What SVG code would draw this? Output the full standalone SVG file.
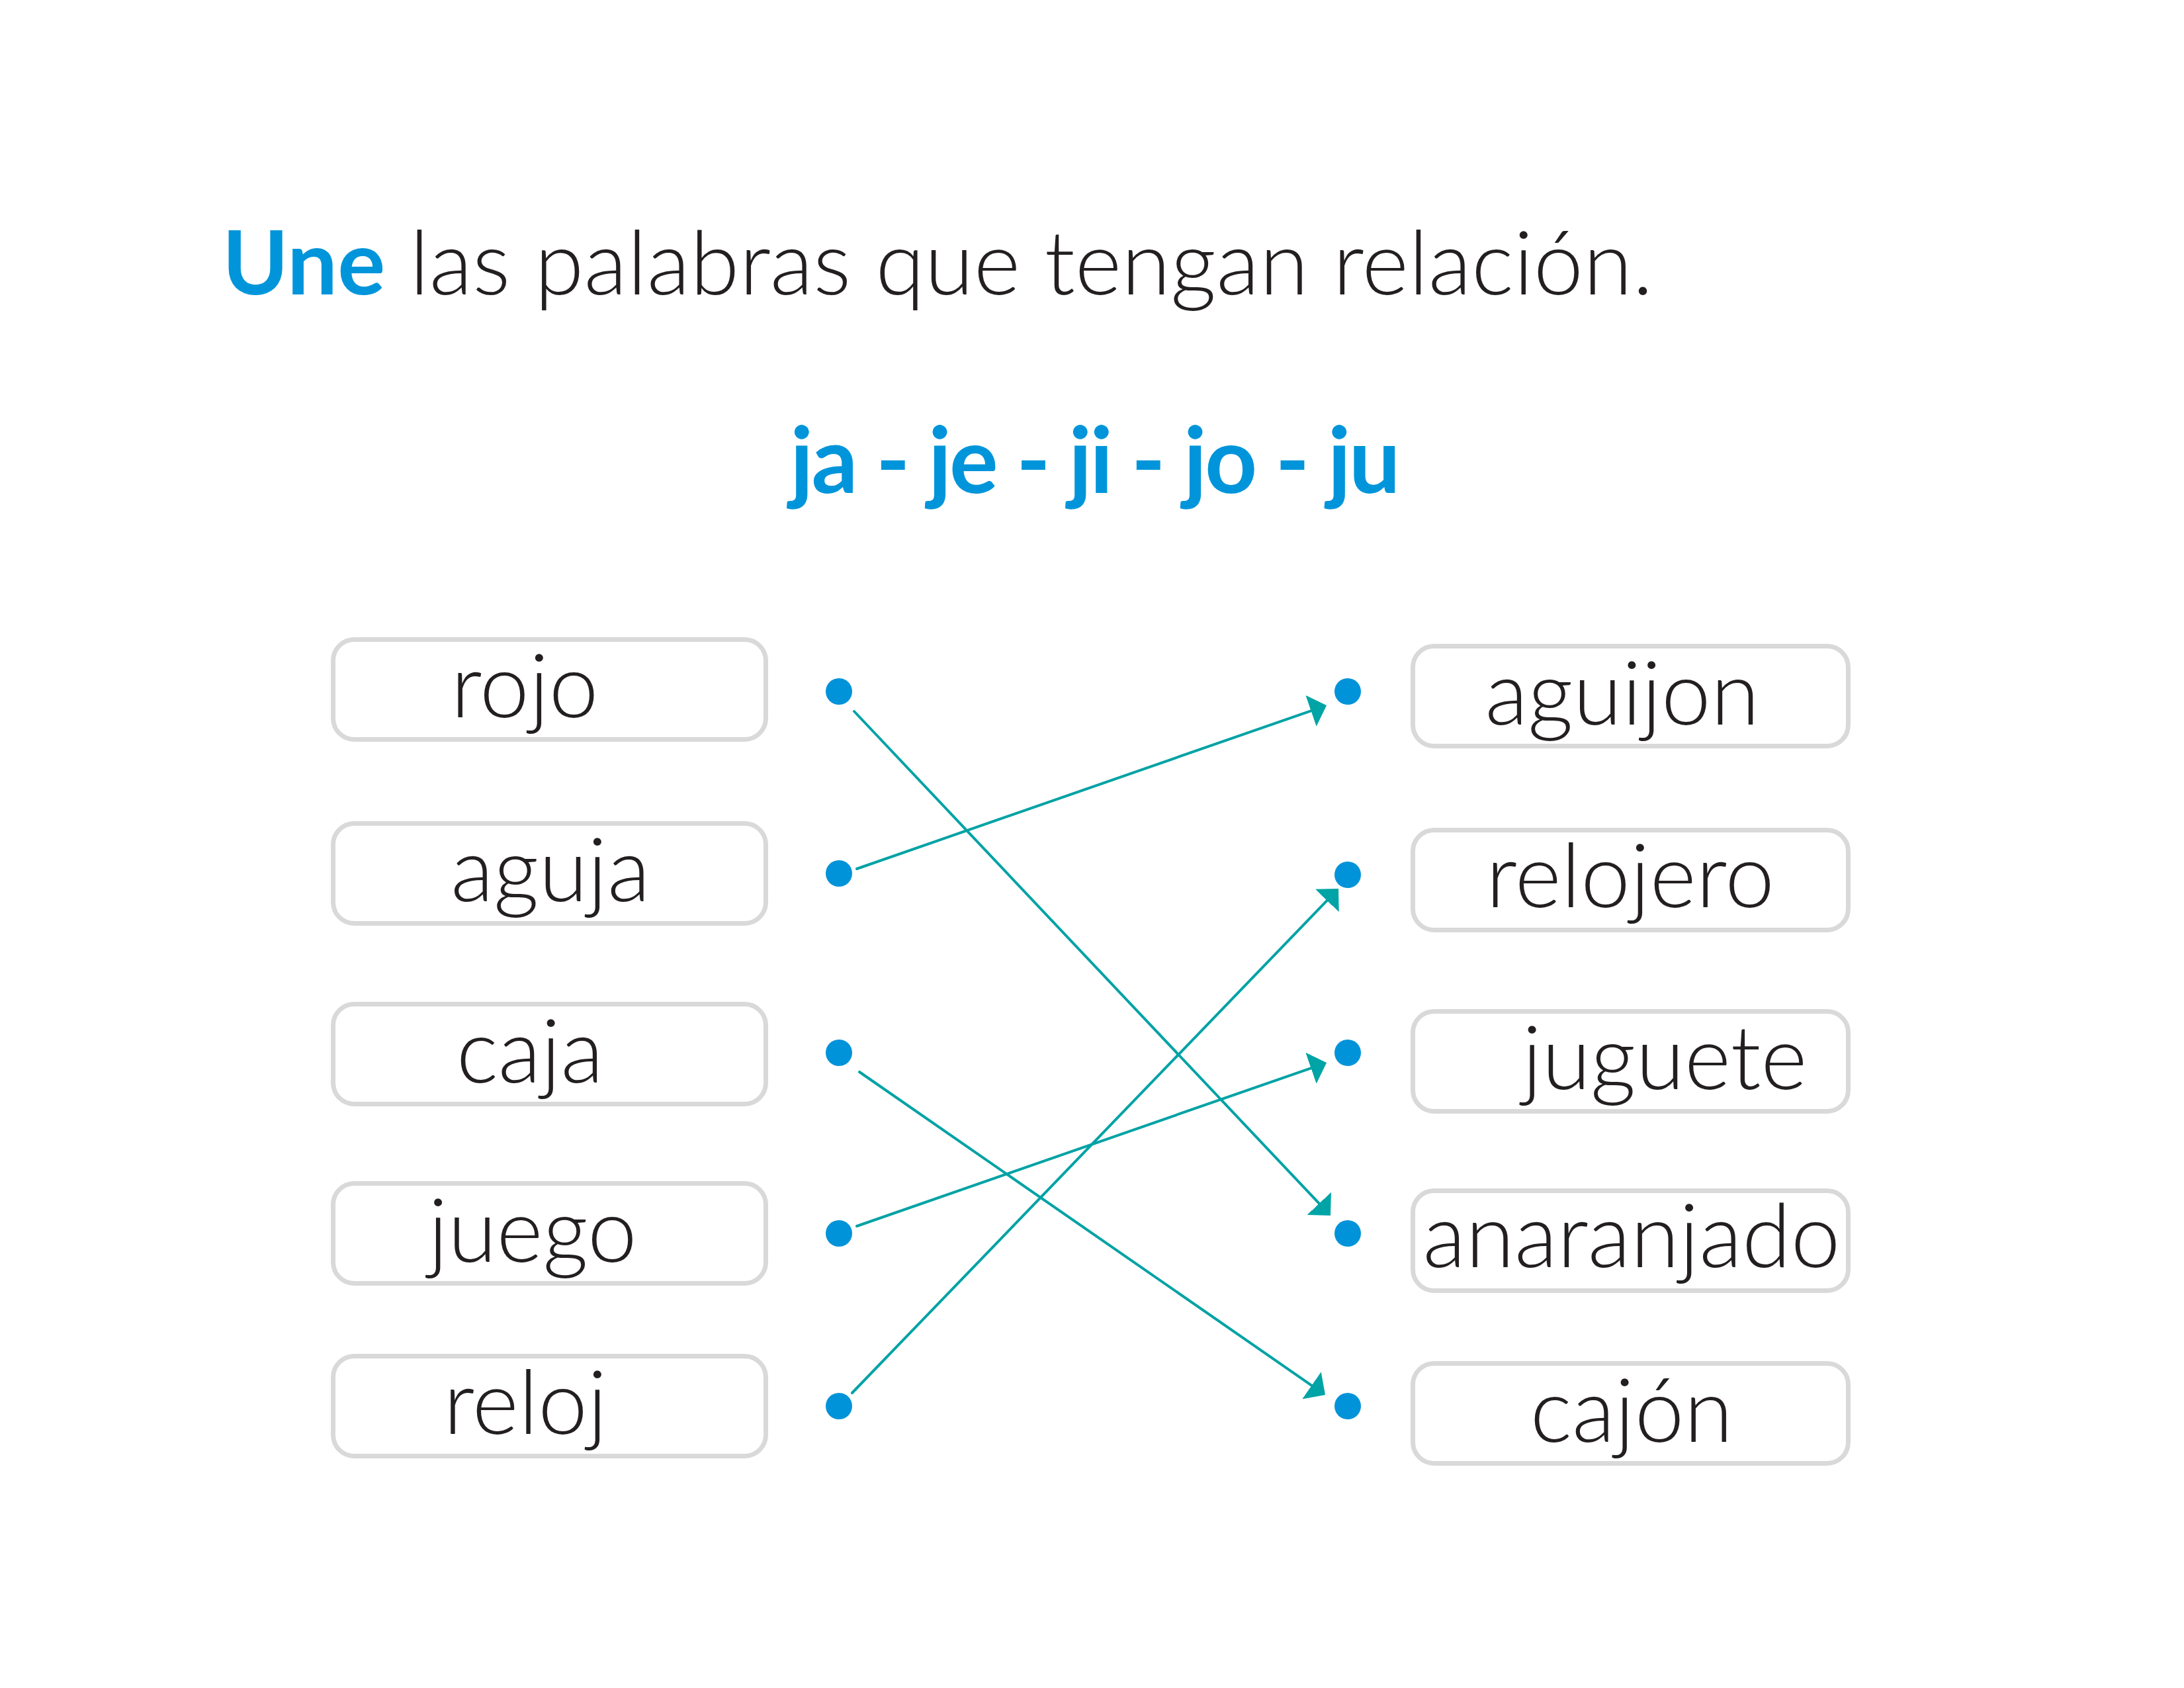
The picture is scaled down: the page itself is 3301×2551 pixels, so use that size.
<svg xmlns="http://www.w3.org/2000/svg" width="3301" height="2551" viewBox="0 0 3301 2551">
  <style>
    .box { fill: #ffffff; stroke: #d9d9d9; stroke-width: 7; }
    .word { font-family: Lato, "Open Sans", "Liberation Sans", sans-serif; font-weight: 300; font-size: 134px; fill: #231f20; text-anchor: middle; }
    .dot { fill: #0093d9; }
    .conn { stroke: #00a2a5; stroke-width: 4; stroke-linecap: round; fill: none; marker-end: url(#arrow); }
    .title { font-family: Lato, "Open Sans", "Liberation Sans", sans-serif; font-size: 135px; }
  </style>
  <defs>
    <marker id="arrow" viewBox="0 0 25 50" refX="15" refY="25" markerWidth="25" markerHeight="50" markerUnits="userSpaceOnUse" orient="auto">
      <path d="M0,0 L25,25 L0,50 z" fill="#00a4a6"/>
    </marker>
  </defs>
  <rect width="3301" height="2551" fill="#ffffff"/>

  <g id="title">
    <text class="title" x="336" y="445"><tspan font-weight="700" fill="#0095da">Une</tspan><tspan font-weight="300" fill="#231f20"> las palabras que tengan relación.</tspan></text>
  </g>
  <g id="syllables">
    <text x="1654" y="745" font-family="Lato, 'Open Sans', 'Liberation Sans', sans-serif" font-weight="700" font-size="138" letter-spacing="-3" fill="#0095da" text-anchor="middle">ja - je - ji - jo - ju</text>
  </g>

  <g id="left-rojo"><rect class="box" x="503.5" y="966.5" width="654" height="151" rx="32"/><text class="word" x="793" y="1084">rojo</text></g>
  <g id="left-aguja"><rect class="box" x="503.5" y="1244.5" width="654" height="151" rx="32"/><text class="word" x="832" y="1362">aguja</text></g>
  <g id="left-caja"><rect class="box" x="503.5" y="1517.5" width="654" height="151" rx="32"/><text class="word" x="801" y="1636">caja</text></g>
  <g id="left-juego"><rect class="box" x="503.5" y="1788.5" width="654" height="151" rx="32"/><text class="word" x="805" y="1907">juego</text></g>
  <g id="left-reloj"><rect class="box" x="503.5" y="2049.5" width="654" height="151" rx="32"/><text class="word" x="794" y="2167">reloj</text></g>

  <g id="right-aguijon"><rect class="box" x="2135.5" y="976.5" width="658" height="151" rx="32"/><text class="word" x="2452" y="1095">aguijon</text></g>
  <g id="right-relojero"><rect class="box" x="2135.5" y="1254.5" width="658" height="151" rx="32"/><text class="word" x="2464" y="1371">relojero</text></g>
  <g id="right-juguete"><rect class="box" x="2135.5" y="1528.5" width="658" height="151" rx="32"/><text class="word" x="2516" y="1646">juguete</text></g>
  <g id="right-anaranjado"><rect class="box" x="2135.5" y="1799.5" width="658" height="151" rx="32"/><text class="word" x="2466" y="1915">anaranjado</text></g>
  <g id="right-cajon"><rect class="box" x="2135.5" y="2060.5" width="658" height="151" rx="32"/><text class="word" x="2466" y="2179">cajón</text></g>

  <g id="dots">
    <circle class="dot" cx="1268" cy="1045" r="20"/>
    <circle class="dot" cx="1268" cy="1320" r="20"/>
    <circle class="dot" cx="1268" cy="1591" r="20"/>
    <circle class="dot" cx="1268" cy="1864" r="20"/>
    <circle class="dot" cx="1268" cy="2125" r="20"/>
    <circle class="dot" cx="2037" cy="1045" r="20"/>
    <circle class="dot" cx="2037" cy="1322" r="20"/>
    <circle class="dot" cx="2037" cy="1591" r="20"/>
    <circle class="dot" cx="2037" cy="1864" r="20"/>
    <circle class="dot" cx="2037" cy="2125" r="20"/>
  </g>

  <g id="connectors">
    <line class="conn" x1="1291" y1="1075" x2="2004.1" y2="1829.7"/>
    <line class="conn" x1="1295" y1="1313" x2="1995.6" y2="1069.3"/>
    <line class="conn" x1="1299" y1="1620" x2="1994.8" y2="2102.3"/>
    <line class="conn" x1="1295" y1="1853" x2="1995.6" y2="1609.3"/>
    <line class="conn" x1="1288" y1="2105" x2="2016.1" y2="1350.2"/>
  </g>
</svg>
